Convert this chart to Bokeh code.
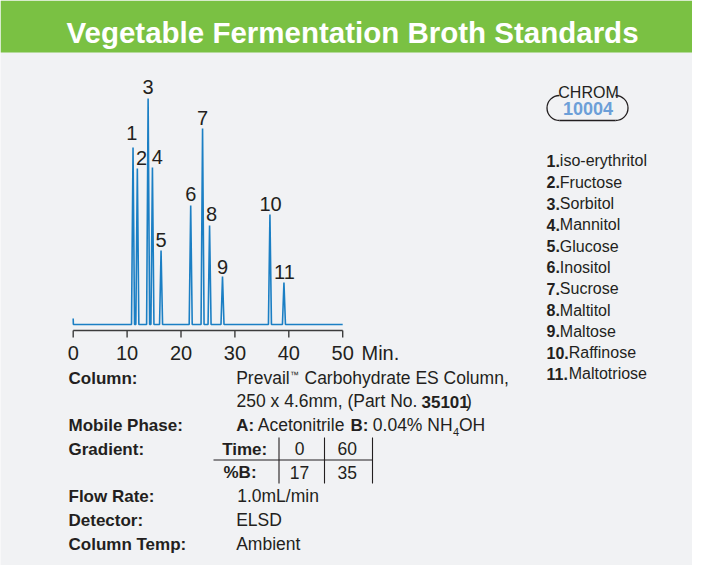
import math
from bokeh.plotting import figure
from bokeh.models import ColumnDataSource, Label, Range1d
from bokeh.embed import file_html
from bokeh.resources import INLINE
from bokeh.core.properties import value

# ---------------- data ----------------
peak_ids = ["1", "2", "3", "4", "5", "6", "7", "8", "9", "10", "11"]
peak_names = ["iso-erythritol", "Fructose", "Sorbitol", "Mannitol", "Glucose",
              "Inositol", "Sucrose", "Maltitol", "Maltose", "Raffinose", "Maltotriose"]
peak_times = [11.1, 11.9, 13.9, 14.7, 16.3, 21.8, 24.0, 25.3, 27.7, 36.5, 39.1]   # min
peak_heights = [177, 156, 226, 157, 74, 119, 196, 99, 48, 110, 42]              # detector signal (a.u.)
peak_half_width = 0.28      # min
run_start_signal = 6        # small injection step at t = 0
run_end_time = 50           # min
x_ticks = [0, 10, 20, 30, 40, 50]
x_tick_labels = ["0", "10", "20", "30", "40", "50"]

# ---------------- layout / style ----------------
FONT = "Liberation Sans"
GREEN = "#7ac143"
BG = "#f1f2f4"
BLUE = "#1b7fc4"
INK = "#231f20"
BADGE_BLUE = "#6c9fd8"

X0_PX = 72.7     # page x of t = 0
PX_PER_MIN = 5.39
BASE_PX = 324.0  # page y of zero signal
W, H = 692, 565
LEFT, TOP = 0, 0
KB = 0.35        # baseline correction (fraction of font size)


def dx(px):
    return (px - X0_PX) / PX_PER_MIN


def dy(py):
    return BASE_PX - py


p = figure(width=W, height=H, output_backend="svg", toolbar_location=None,
           x_range=Range1d(dx(LEFT), dx(LEFT + W)), y_range=Range1d(dy(TOP + H), dy(TOP)),
           x_axis_location=None, y_axis_location=None, min_border=0, tools="")
p.grid.visible = False
p.outline_line_color = None
p.background_fill_color = BG
p.border_fill_color = BG


def lab(px, py, text, size, bold=False, color=INK, align="left"):
    p.add_layout(Label(x=dx(px), y=dy(py - KB * size), text=text, text_font=FONT,
                       text_font_size=f"{size}px",
                       text_font_style="bold" if bold else "normal",
                       text_color=color, text_align=align, text_baseline="alphabetic"))


# header band
p.quad(left=[dx(LEFT)], right=[dx(LEFT + W)], top=[dy(TOP)], bottom=[dy(52)],
       fill_color=GREEN, line_color=None)
lab(352, 42, "Vegetable Fermentation Broth Standards", 29.5, bold=True, color="white", align="center")

# chromatogram trace built from the peak table
tx = [0, 0.03]
ty = [run_start_signal, 0]
for t, h in zip(peak_times, peak_heights):
    tx += [t - peak_half_width, t, t + peak_half_width]
    ty += [0, h, 0]
tx.append(run_end_time)
ty.append(0)
p.line(tx, ty, line_color=BLUE, line_width=1.6)

# peak number labels
NUM_SIZE = 20
label_dx_px = [-1.2, 4.2, 0, 4.8, 0, 0, 0, 2, 0, 0.6, 0.5]
label_gap_px = [7.3, 3.3, 5, 4, 3.6, 4.7, 3.3, 5, 3, 4, 3.7]
psrc = ColumnDataSource(dict(
    x=[t + d / PX_PER_MIN for t, d in zip(peak_times, label_dx_px)],
    y=[h + g + KB * NUM_SIZE for h, g in zip(peak_heights, label_gap_px)],
    text=peak_ids))
p.text(x="x", y="y", text="text", source=psrc, text_font=value(FONT),
       text_font_size=f"{NUM_SIZE}px", text_align="center", text_baseline="alphabetic", text_color=INK)

# time axis
axis_y = dy(330)
p.line([x_ticks[0], x_ticks[-1]], [axis_y, axis_y], line_color="#3c3c3c", line_width=1.6)
p.segment(x0=x_ticks, y0=[axis_y] * len(x_ticks), x1=x_ticks, y1=[axis_y - 7] * len(x_ticks),
          line_color="#3c3c3c", line_width=1.4)
p.text(x=x_ticks, y=[dy(359.3 - KB * NUM_SIZE)] * len(x_ticks), text=x_tick_labels, text_font=value(FONT),
       text_font_size=f"{NUM_SIZE}px", text_align="center", text_baseline="alphabetic", text_color=INK)
lab(361, 359.3, "Min.", NUM_SIZE)

# CHROM badge
p.arc(x=[dx(559), dx(615)], y=[dy(107.5)] * 2, radius=12.5, radius_units="screen",
      start_angle=[math.pi / 2, -math.pi / 2], end_angle=[3 * math.pi / 2, math.pi / 2],
      line_color=INK, line_width=1.3)
p.line([dx(559), dx(615)], [dy(120)] * 2, line_color=INK, line_width=1.3)
lab(588, 97.5, "CHROM", 16, align="center")
lab(587.5, 114.7, "10004", 18, bold=True, color=BADGE_BLUE, align="center")

# compound list
LEG_SIZE = 16
for i, (pid, name) in enumerate(zip(peak_ids, peak_names)):
    yb = 166 + 21.3 * i
    lab(546, yb, pid + ".", LEG_SIZE, bold=True)
    wbold = (0.556 * len(pid) + 0.278) * LEG_SIZE
    lab(546 + wbold, yb, name, LEG_SIZE)

# conditions block
B = 17
R = 17.5
rows = {"col": 384, "dim": 407, "mob": 431, "grad": 454.5, "pb": 478, "flow": 502, "det": 526, "temp": 550}
lab(68, rows["col"], "Column:", B, bold=True)
lab(235.7, rows["col"], "Prevail", R)
lab(289.5, rows["col"] - 6, "™", 9)
lab(304, rows["col"], "Carbohydrate ES Column,", R)
lab(236, rows["dim"], "250 x 4.6mm, (Part No.", R)
lab(421, rows["dim"], "35101", B, bold=True)
lab(465.5, rows["dim"], ")", R)

lab(68, rows["mob"], "Mobile Phase:", B, bold=True)
lab(235.7, rows["mob"], "A:", B, bold=True)
lab(257.3, rows["mob"], "Acetonitrile", R)
lab(350, rows["mob"], "B:", B, bold=True)
lab(372.3, rows["mob"], "0.04% NH", R)
lab(452.5, rows["mob"] + 4, "4", 11)
lab(458.5, rows["mob"], "OH", R)

lab(68, rows["grad"], "Gradient:", B, bold=True)
lab(221.7, rows["grad"], "Time:", B, bold=True)
lab(299, rows["grad"], "0", R, align="center")
lab(346.7, rows["grad"], "60", R, align="center")
lab(223, rows["pb"], "%B:", B, bold=True)
lab(299, rows["pb"], "17", R, align="center")
lab(346.7, rows["pb"], "35", R, align="center")
p.line([dx(213), dx(372.5)], [dy(459.5)] * 2, line_color=INK, line_width=1.1)
for vx in (278.5, 324, 372):
    p.line([dx(vx), dx(vx)], [dy(437), dy(483)], line_color=INK, line_width=1.1)

lab(68, rows["flow"], "Flow Rate:", B, bold=True)
lab(236.7, rows["flow"], "1.0mL/min", R)
lab(68, rows["det"], "Detector:", B, bold=True)
lab(235.7, rows["det"], "ELSD", R)
lab(68, rows["temp"], "Column Temp:", B, bold=True)
lab(235.7, rows["temp"], "Ambient", R)

open("out.html", "w").write(file_html(p, INLINE))
